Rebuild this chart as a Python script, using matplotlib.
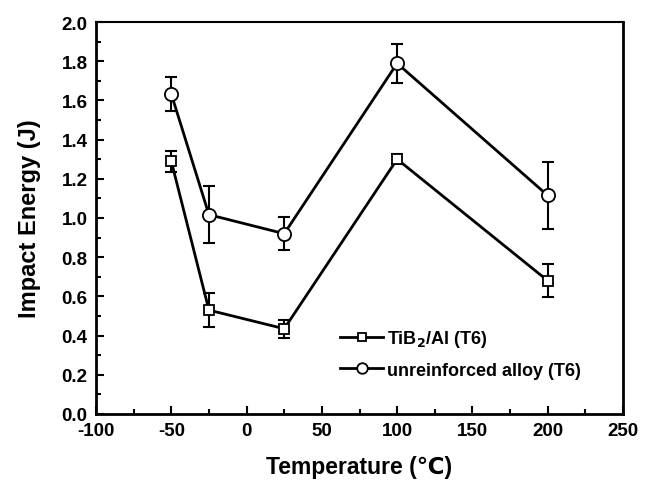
import matplotlib
matplotlib.use("Agg")
import matplotlib.pyplot as plt
from matplotlib.ticker import MultipleLocator, FormatStrFormatter

# data
temps = [-50, -25, 25, 100, 200]
tib2_energy = [1.29, 0.53, 0.435, 1.30, 0.68]
tib2_err = [0.053, 0.085, 0.047, 0.025, 0.083]
alloy_energy = [1.633, 1.017, 0.92, 1.789, 1.115]
alloy_err = [0.085, 0.147, 0.083, 0.10, 0.17]

plt.rcParams["font.family"] = ["Liberation Sans", "DejaVu Sans"]
plt.rcParams["font.weight"] = "bold"
plt.rcParams["axes.unicode_minus"] = False

fig = plt.figure(figsize=(6.51, 4.81), dpi=100)
ax = fig.add_axes([96 / 651, 1 - 415 / 481, (623 - 96) / 651, (415 - 23) / 481])

err_style = dict(fmt="none", ecolor="black", capsize=4, capthick=1.5, elinewidth=1.5)
ax.errorbar(temps, tib2_energy, yerr=tib2_err, **err_style)
ax.errorbar(temps, alloy_energy, yerr=alloy_err, **err_style)

ax.plot(temps, tib2_energy, color="black", lw=2, marker="s", ms=7.5,
        mfc="white", mec="black", mew=1.3, label="TiB$_\\mathbf{2}$/Al (T6)")
ax.plot(temps, alloy_energy, color="black", lw=2, marker="o", ms=9.5,
        mfc="white", mec="black", mew=1.3, label="unreinforced alloy (T6)")

ax.set_xlim(-100, 250)
ax.set_ylim(0.0, 2.0)
ax.xaxis.set_major_locator(MultipleLocator(50))
ax.xaxis.set_minor_locator(MultipleLocator(25))
ax.yaxis.set_major_locator(MultipleLocator(0.2))
ax.yaxis.set_minor_locator(MultipleLocator(0.1))
ax.yaxis.set_major_formatter(FormatStrFormatter("%.1f"))

ax.tick_params(which="both", direction="in", top=False, right=False,
               labelsize=13.5, width=1.5)
ax.tick_params(which="major", length=6, pad=6)
ax.tick_params(which="minor", length=3.5)
for lab in ax.get_xticklabels() + ax.get_yticklabels():
    lab.set_fontweight("bold")

for side in ["left", "bottom", "right"]:
    ax.spines[side].set_linewidth(2)
ax.spines["top"].set_linewidth(1.5)

ax.set_xlabel("Temperature (\u2103)", fontsize=16.5, fontweight="bold", labelpad=11)
ax.set_ylabel("Impact Energy (J)", fontsize=17, fontweight="bold", labelpad=15)

leg = ax.legend(loc="center left", bbox_to_anchor=(0.432, 0.155), frameon=False,
                fontsize=13, handlelength=2.4, handletextpad=0.2, labelspacing=0.7,
                markerscale=0.8)
for t in leg.get_texts():
    t.set_fontweight("bold")

fig.savefig("out.png", dpi=100)
